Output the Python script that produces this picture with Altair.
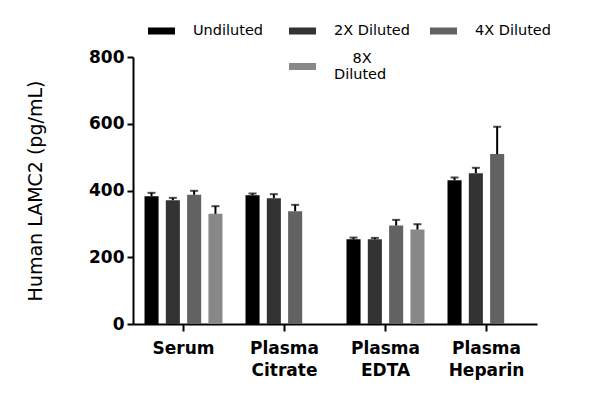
import altair as alt
import pandas as pd

samples = ["Serum", "Plasma Citrate", "Plasma EDTA", "Plasma Heparin"]
dilutions = ["Undiluted", "2X Diluted", "4X Diluted", "8X Diluted"]

undiluted = [383, 386, 254, 431]
x2_diluted = [371, 377, 254, 452]
x4_diluted = [387, 338, 295, 509]
x8_diluted = [330, None, 283, None]

undiluted_err = [10, 5, 5, 8]
x2_err = [7, 12, 4, 16]
x4_err = [12, 19, 17, 82]
x8_err = [23, None, 16, None]

legend_domain = ["Undiluted", "2X Diluted", "4X Diluted", " ", "8X Diluted"]
legend_colors = ["#000000", "#333333", "#626262", "transparent", "#888888"]

rows = []
for dil, means, errs in zip(dilutions,
                            [undiluted, x2_diluted, x4_diluted, x8_diluted],
                            [undiluted_err, x2_err, x4_err, x8_err]):
    for s, m, e in zip(samples, means, errs):
        if m is None:
            continue
        rows.append({"sample": s, "dilution": dil, "mean": m, "top": m + e})
df = pd.DataFrame(rows)

FONT = "DejaVu Sans"
NB = "\\u200c" + "\\u00a0" * 4

x_enc = alt.X("sample:N", sort=samples,
              scale=alt.Scale(domain=samples, paddingInner=0, paddingOuter=0),
              axis=alt.Axis(title=None, labelAngle=0, labelExpr="split(datum.label, ' ')",
                            labelFont=FONT, labelFontSize=17, labelFontWeight="bold",
                            labelColor="black", labelLineHeight=22, labelPadding=9,
                            tickColor="black", tickWidth=2, tickSize=7,
                            domainColor="black", domainWidth=2))
xoff_enc = alt.XOffset("dilution:N", sort=dilutions,
                       scale=alt.Scale(domain=dilutions, paddingInner=0.34, paddingOuter=0.54))
y_axis = alt.Axis(title="Human LAMC2 (pg/mL)", values=[0, 200, 400, 600, 800], grid=False,
                  labelFont=FONT, labelFontSize=17, labelFontWeight="bold", labelColor="black",
                  labelPadding=3, tickColor="black", tickWidth=2, tickSize=6,
                  domainColor="black", domainWidth=2,
                  titleFont=FONT, titleFontSize=19, titleFontWeight=500,
                  titleColor="black", titlePadding=43)

base = alt.Chart(df)

bars = base.mark_bar().encode(
    x=x_enc,
    xOffset=xoff_enc,
    y=alt.Y("mean:Q", scale=alt.Scale(domain=[0, 800]), axis=y_axis),
    color=alt.Color("dilution:N",
                    scale=alt.Scale(domain=legend_domain, range=legend_colors),
                    legend=alt.Legend(
                        title=None, orient="none", legendX=15, legendY=-44,
                        direction="horizontal",
                        columns=3, columnPadding=20, rowPadding=8, gridAlign="all",
                        padding=0,
                        symbolType="M-1,-0.26H1V0.26H-1Z", symbolSize=729,
                        symbolStrokeWidth=0, labelOffset=18,
                        labelFont=FONT, labelFontSize=14.5, labelColor="black",
                        labelLimit=300,
                        labelBaseline={"expr": "datum.label == '8X Diluted' ? 'line-bottom' : 'middle'"},
                        labelExpr="datum.label == '8X Diluted' ? ['" + NB + "8X', 'Diluted'] : datum.label")),
)

err_line = base.mark_rule(color="black", strokeWidth=2).encode(
    x=x_enc, xOffset=xoff_enc, y=alt.Y("mean:Q"), y2=alt.Y2("top:Q"))

err_cap = base.mark_tick(color="black", orient="horizontal", size=8, thickness=2).encode(
    x=x_enc, xOffset=xoff_enc, y=alt.Y("top:Q"))

chart = alt.layer(bars, err_line, err_cap).properties(
    width=404, height=267,
    autosize=alt.AutoSizeParams(type="none"),
    padding={"left": 133, "top": 57, "right": 63, "bottom": 78},
).configure_view(stroke=None)

chart.save("out.html", embed_options={"renderer": "svg", "actions": False})
